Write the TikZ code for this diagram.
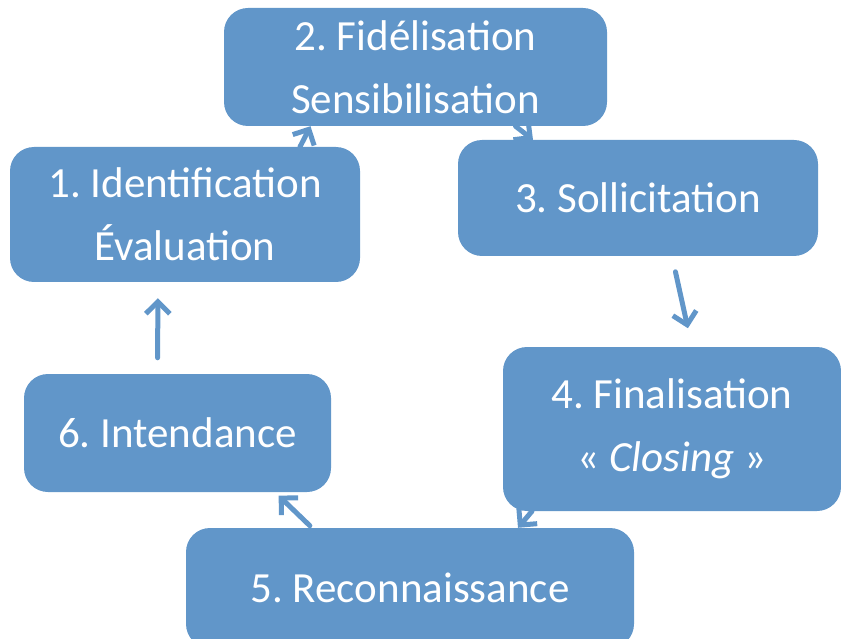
\documentclass[tikz,border=0pt]{standalone}
\usepackage{fontspec}
\setmainfont{Carlito}
\usetikzlibrary{arrows.meta}
\definecolor{boxblue}{RGB}{97,150,201}
\frenchspacing
\begin{document}
\begin{tikzpicture}[x=1pt,y=-1pt,
  box/.style={fill=boxblue,rounded corners=24pt,text=white,align=center,inner sep=0pt,
    font=\fontsize{43}{63}\selectfont},
  fl/.style={draw=boxblue,line width=5pt,line cap=round,-{Straight Barb[length=12pt,width=24pt,line width=5pt]}}]
\useasboundingbox (0,0) rectangle (841,639);
\path(415.5,67)node[box,minimum width=383pt,minimum height=118pt](fid){2. Fidélisation\\Sensibilisation}
(185,214.5)node[box,minimum width=350pt,minimum height=135pt](id){1. Identification\\Évaluation}
(638,198)node[box,minimum width=360pt,minimum height=116pt](sol){3. Sollicitation}
(672,429)node[box,minimum width=338pt,minimum height=164pt](fin){4. Finalisation\\« \textit{Closing} »}
(177.5,433)node[box,minimum width=307pt,minimum height=118pt](int){6. Intendance}
(410,588)node[box,minimum width=448pt,minimum height=120pt](rec){5. Reconnaissance};
\draw[fl]([xshift=115pt]id.north) -- ([xshift=-105pt]fid.south);
\draw[fl]([xshift=100pt]fid.south) -- ([xshift=-105pt]sol.north);
\draw[fl,shorten <=16pt,shorten >=19pt]([xshift=34pt]sol.south) -- ([xshift=20pt]fin.north);
\draw[fl]([xshift=-140pt]fin.south) -- ([xshift=108pt]rec.north);
\draw[fl,shorten <=3pt,shorten >=5pt]([xshift=-98pt]rec.north) -- ([xshift=97.5pt]int.south);
\draw[fl,shorten <=16pt,shorten >=16pt]([xshift=-20pt]int.north) -- ([xshift=-27pt]id.south);
\end{tikzpicture}
\end{document}
